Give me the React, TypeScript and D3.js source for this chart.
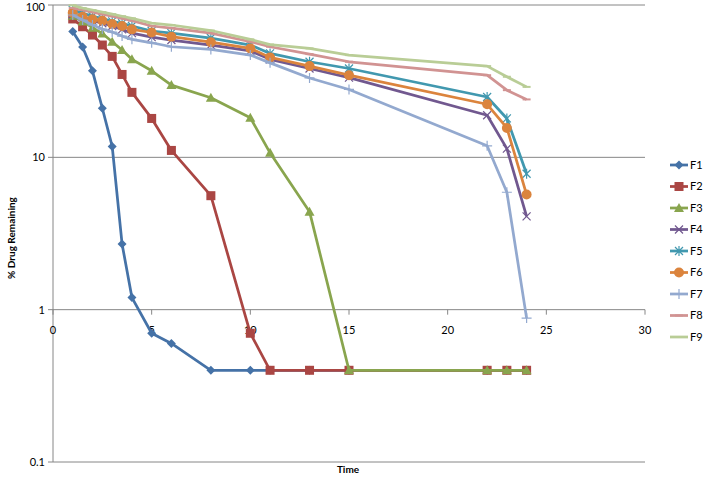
import React from "react";
import * as d3 from "d3";

const times = [1, 1.5, 2, 2.5, 3, 3.5, 4, 5, 6, 8, 10, 11, 13, 15, 22, 23, 24];
const F1 = [67, 53, 37, 21, 11.8, 2.7, 1.2, 0.7, 0.6, 0.4, 0.4, 0.4, 0.4, 0.4, 0.4, 0.4, 0.4];
const F2 = [81, 72, 63.5, 54.6, 46, 35, 26.7, 18, 11.1, 5.6, 0.7, 0.4, 0.4, 0.4, 0.4, 0.4, 0.4];
const F3 = [85, 78, 71, 65, 57.4, 50.6, 44, 37, 29.8, 24.6, 18.2, 10.7, 4.4, 0.4, 0.4, 0.4, 0.4];
const F4 = [87, 83, 79, 75.9, 72.8, 69.2, 65.4, 61.5, 58.9, 54.6, 50, 44, 38.3, 33.4, 18.9, 11.4, 4.1];
const F5 = [92.7, 88.5, 84.4, 81.8, 78, 75.9, 72.8, 67.5, 65.4, 60.7, 54.6, 48.1, 42.4, 38.3, 24.9, 18, 7.8];
const F6 = [89, 83.8, 80.5, 78.9, 75, 72.8, 69.2, 66, 62, 57, 51.9, 45.3, 39.7, 34.6, 22.3, 15.6, 5.7];
const F7 = [86, 79.7, 74, 69.5, 66.4, 62.5, 59.5, 56.5, 53.2, 51.1, 46.9, 41.7, 33.2, 27.9, 11.9, 5.9, 0.88];
const F8 = [95.5, 92.7, 89.9, 87, 84.4, 81.8, 79, 72.8, 70.6, 65.4, 57.4, 53.2, 47.6, 42.4, 34.6, 27.6, 24];
const F9 = [99.5, 95.5, 92.7, 89.9, 87.1, 84.4, 81.8, 76, 73.9, 68, 59.5, 55, 51.9, 46.9, 39.7, 33.8, 29];

const seriesNames = ["F1", "F2", "F3", "F4", "F5", "F6", "F7", "F8", "F9"];
const seriesValues = [F1, F2, F3, F4, F5, F6, F7, F8, F9];
const seriesColors = ["#4572A7", "#AA4643", "#89A54E", "#71588F", "#4198AF", "#DB843D", "#93A9CF", "#D19392", "#B9CD96"];
const seriesMarkers = ["diamond", "square", "triangle", "x", "star", "circle", "plus", "dash", "dash"];

const xTicks = [0, 5, 10, 15, 20, 25, 30];
const yTicks = [0.1, 1, 10, 100];
const yTickLabels = ["0.1", "1", "10", "100"];

const W = 708;
const H = 477;
const FONT = "Lato, 'Open Sans', sans-serif";

function Marker({ type, x, y, color }: { type: string; x: number; y: number; color: string }) {
  const t = `translate(${x},${y})`;
  switch (type) {
    case "diamond":
      return <path transform={t} d="M0,-4.5L4.5,0L0,4.5L-4.5,0Z" fill={color} />;
    case "square":
      return <rect x={x - 4.5} y={y - 4.5} width={9} height={9} fill={color} />;
    case "triangle":
      return <path transform={t} d="M0,-5L5,4L-5,4Z" fill={color} />;
    case "circle":
      return <circle cx={x} cy={y} r={5} fill={color} />;
    case "x":
      return <path transform={t} d="M-4,-4L4,4M-4,4L4,-4" stroke={color} strokeWidth={1.2} fill="none" />;
    case "star":
      return <path transform={t} d="M-4,-4L4,4M-4,4L4,-4M0,-5L0,5" stroke={color} strokeWidth={1.2} fill="none" />;
    case "plus":
      return <path transform={t} d="M0,-5L0,5M-5,0L5,0" stroke={color} strokeWidth={1.2} fill="none" />;
    case "dash":
      return <path transform={t} d="M-4,0L4,0" stroke={color} strokeWidth={2} fill="none" />;
    default:
      return null;
  }
}

export default function App() {
  const x = d3.scaleLinear().domain([0, 30]).range([53, 645]);
  const y = d3.scaleLog().domain([0.1, 100]).range([462, 5]);
  const line = d3
    .line<number>()
    .x((_, i) => x(times[i]))
    .y((d) => y(d));

  const axisY = y(1);

  return (
    <div style={{ position: "fixed", left: 0, top: 0 }}>
      <svg width={W} height={H} style={{ display: "block", background: "#fff" }}>
        {yTicks.map((v) => (
          <line key={"g" + v} x1={x(0)} x2={x(30)} y1={y(v)} y2={y(v)} stroke="#868686" strokeWidth={1} />
        ))}
        <line x1={x(0)} x2={x(0)} y1={y(100)} y2={y(0.1)} stroke="#868686" strokeWidth={1} />
        {yTicks.map((v, i) => (
          <g key={"yt" + v}>
            <line x1={x(0) - 5} x2={x(0)} y1={y(v)} y2={y(v)} stroke="#868686" />
            <text
              x={x(0) - 8}
              y={Math.max(y(v), 7)}
              dy="0.35em"
              textAnchor="end"
              fontFamily={FONT}
              fontSize={11}
              fill="#000"
            >
              {yTickLabels[i]}
            </text>
          </g>
        ))}
        {xTicks.map((v) => (
          <g key={"xt" + v}>
            <line x1={x(v)} x2={x(v)} y1={axisY} y2={axisY + 5} stroke="#868686" />
            <text x={x(v)} y={axisY + 24} textAnchor="middle" fontFamily={FONT} fontSize={11} fill="#000">
              {v}
            </text>
          </g>
        ))}
        {seriesValues.map((vals, si) => (
          <g key={seriesNames[si]}>
            <path d={line(vals) || ""} fill="none" stroke={seriesColors[si]} strokeWidth={2.75} strokeLinejoin="round" />
            {vals.map((v, i) => (
              <Marker key={i} type={seriesMarkers[si]} x={x(times[i])} y={y(v)} color={seriesColors[si]} />
            ))}
          </g>
        ))}
        <text x={348} y={473} textAnchor="middle" fontFamily={FONT} fontSize={10} fontWeight="bold" fill="#000">
          Time
        </text>
        <text
          transform={`translate(15,238) rotate(-90)`}
          textAnchor="middle"
          fontFamily={FONT}
          fontSize={10}
          fontWeight="bold"
          fill="#000"
        >
          % Drug Remaining
        </text>
        {seriesNames.map((name, i) => {
          const ly = 165 + i * 21.5;
          return (
            <g key={"lg" + name}>
              <line x1={670} x2={688} y1={ly} y2={ly} stroke={seriesColors[i]} strokeWidth={2.75} />
              <Marker type={seriesMarkers[i]} x={679} y={ly} color={seriesColors[i]} />
              <text x={690} y={ly} dy="0.35em" fontFamily={FONT} fontSize={11} fill="#000">
                {name}
              </text>
            </g>
          );
        })}
      </svg>
    </div>
  );
}
